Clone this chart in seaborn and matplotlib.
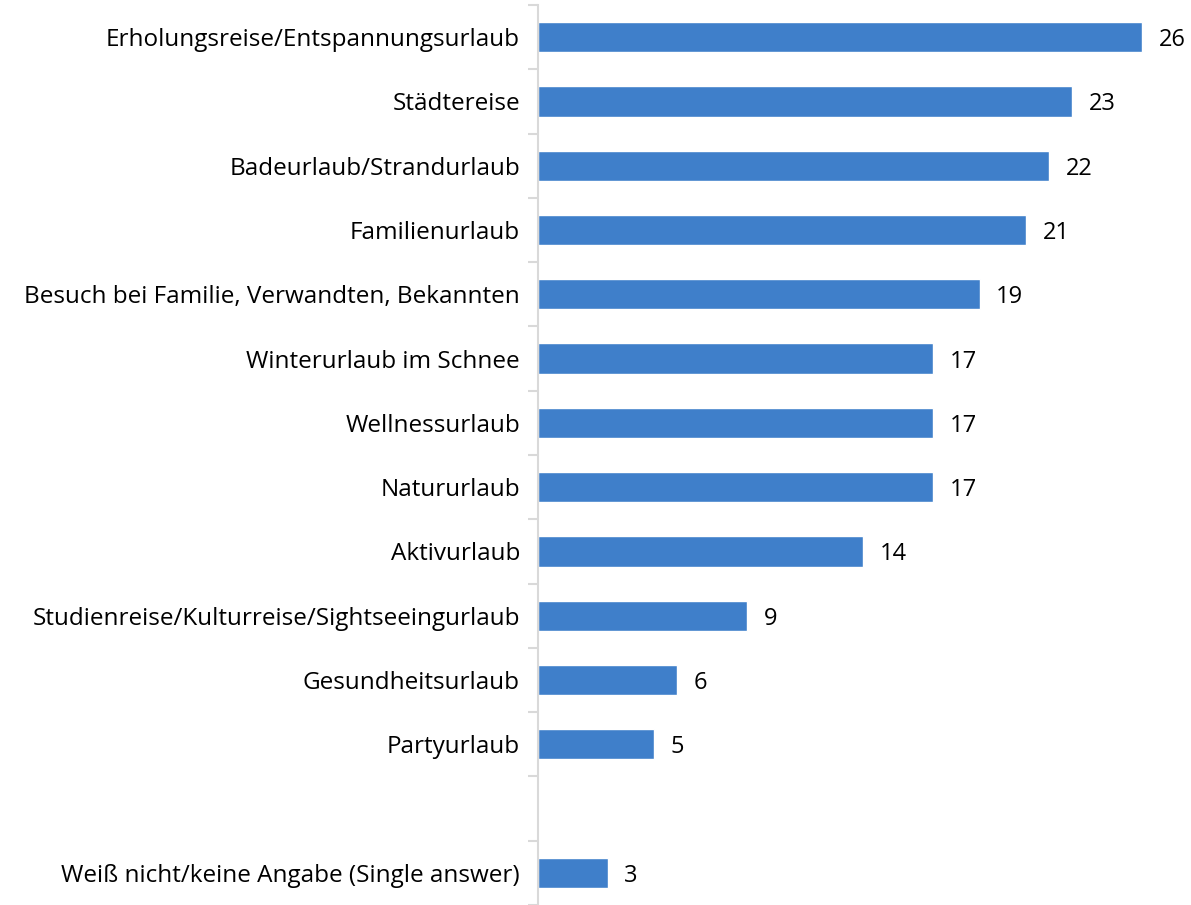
import numpy as np
import pandas as pd
import matplotlib
matplotlib.use("Agg")
import matplotlib.pyplot as plt
import seaborn as sns

# Reisearten (Mehrfachnennung) in Prozent
categories = [
    "Erholungsreise/Entspannungsurlaub",
    "Städtereise",
    "Badeurlaub/Strandurlaub",
    "Familienurlaub",
    "Besuch bei Familie, Verwandten, Bekannten",
    "Winterurlaub im Schnee",
    "Wellnessurlaub",
    "Natururlaub",
    "Aktivurlaub",
    "Studienreise/Kulturreise/Sightseeingurlaub",
    "Gesundheitsurlaub",
    "Partyurlaub",
    "Weiß nicht/keine Angabe (Single answer)",
]
values = [26, 23, 22, 21, 19, 17, 17, 17, 14, 9, 6, 5, 3]
# Position der Zeilen: leere Zeile vor "Weiß nicht"
slots = [0, 1, 2, 3, 4, 5, 6, 7, 8, 9, 10, 11, 13]

df = pd.DataFrame({"kategorie": categories, "wert": values, "pos": slots})

sns.set_theme(style="white")
plt.rcParams["font.family"] = ["Open Sans", "DejaVu Sans"]

fig = plt.figure(figsize=(11.91, 9.05), dpi=100)
ax = fig.add_axes([538 / 1191, 0.0, 1 - 538 / 1191, 1 - 5 / 905])

sns.barplot(data=df, x="wert", y="pos", orient="h", native_scale=True,
            color="#3F7FCA", saturation=1, width=0.47, ax=ax)

for c in ax.containers:
    labs = ax.bar_label(c, labels=[str(v) for v in values], padding=12,
                        fontsize=17, color="black")
    for t in labs:
        t.set_va("center_baseline")

ax.set_xlim(0, 28.1)
ax.set_ylim(13.5, -0.5)
ax.set_yticks(slots)
ax.set_yticklabels(categories, fontsize=17.5, color="black")
ax.set_yticks(np.arange(-0.5, 14, 1), minor=True)
ax.tick_params(axis="y", which="major", length=0, pad=13)
ax.tick_params(axis="y", which="minor", length=7, width=1.5, color="#D9D9D9", left=True)
ax.set_xticks([])
ax.set_xlabel("")
ax.set_ylabel("")

for s in ["top", "right", "bottom"]:
    ax.spines[s].set_visible(False)
ax.spines["left"].set_color("#D9D9D9")
ax.spines["left"].set_linewidth(1.5)

fig.savefig("out.png", dpi=100)
